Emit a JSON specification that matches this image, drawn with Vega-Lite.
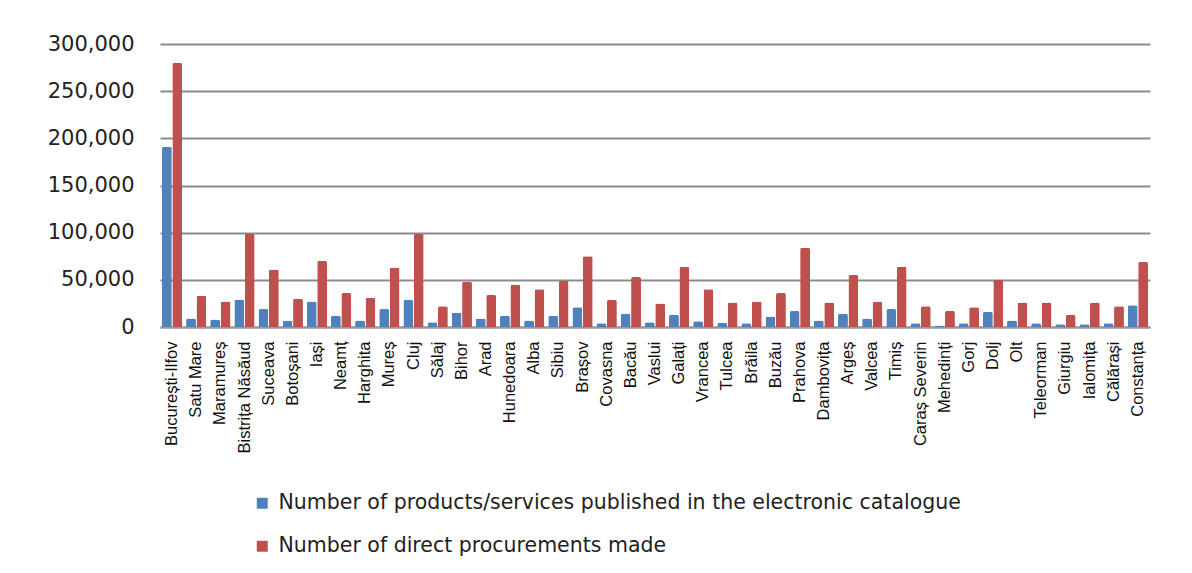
{
  "$schema": "https://vega.github.io/schema/vega-lite/v6.json",
  "autosize": {"type": "none"},
  "width": 990,
  "height": 283,
  "padding": {"left": 160, "top": 44, "right": 42, "bottom": 246},
  "background": "white",
  "config": {
    "view": {"stroke": null},
    "font": "DejaVu Sans"
  },
  "datasets": {
    "counties": [
      {"county": "București-Ilfov", "products": 191000, "procurements": 280000},
      {"county": "Satu Mare", "products": 9000, "procurements": 33000},
      {"county": "Maramureș", "products": 8000, "procurements": 27000},
      {"county": "Bistrița Năsăud", "products": 29000, "procurements": 99000},
      {"county": "Suceava", "products": 19000, "procurements": 61000},
      {"county": "Botoșani", "products": 7000, "procurements": 30000},
      {"county": "Iași", "products": 27000, "procurements": 70000},
      {"county": "Neamț", "products": 12000, "procurements": 36000},
      {"county": "Harghita", "products": 7000, "procurements": 31000},
      {"county": "Mureș", "products": 19000, "procurements": 63000},
      {"county": "Cluj", "products": 29000, "procurements": 99000},
      {"county": "Sălaj", "products": 5000, "procurements": 22000},
      {"county": "Bihor", "products": 15000, "procurements": 48000},
      {"county": "Arad", "products": 9000, "procurements": 34000},
      {"county": "Hunedoara", "products": 12000, "procurements": 45000},
      {"county": "Alba", "products": 7000, "procurements": 40000},
      {"county": "Sibiu", "products": 12000, "procurements": 49000},
      {"county": "Brașov", "products": 21000, "procurements": 75000},
      {"county": "Covasna", "products": 4000, "procurements": 29000},
      {"county": "Bacău", "products": 14000, "procurements": 53000},
      {"county": "Vaslui", "products": 5000, "procurements": 25000},
      {"county": "Galați", "products": 13000, "procurements": 64000},
      {"county": "Vrancea", "products": 6000, "procurements": 40000},
      {"county": "Tulcea", "products": 4500, "procurements": 26000},
      {"county": "Brăila", "products": 4000, "procurements": 27000},
      {"county": "Buzău", "products": 11000, "procurements": 36000},
      {"county": "Prahova", "products": 17000, "procurements": 84000},
      {"county": "Dambovița", "products": 7000, "procurements": 26000},
      {"county": "Argeș", "products": 14000, "procurements": 55000},
      {"county": "Valcea", "products": 9000, "procurements": 27000},
      {"county": "Timiș", "products": 19000, "procurements": 64000},
      {"county": "Caraș Severin", "products": 4000, "procurements": 22000},
      {"county": "Mehedinți", "products": 1500, "procurements": 17000},
      {"county": "Gorj", "products": 4000, "procurements": 21000},
      {"county": "Dolj", "products": 16000, "procurements": 50000},
      {"county": "Olt", "products": 7000, "procurements": 26000},
      {"county": "Teleorman", "products": 4000, "procurements": 26000},
      {"county": "Giurgiu", "products": 3000, "procurements": 13000},
      {"county": "Ialomița", "products": 3000, "procurements": 26000},
      {"county": "Călărași", "products": 4000, "procurements": 22000},
      {"county": "Constanța", "products": 23000, "procurements": 69000}
    ]
  },
  "data": {"name": "counties"},
  "transform": [
    {"fold": ["products", "procurements"], "as": ["key", "value"]},
    {"lookup": "key", "from": {"data": {"values": [
      {"key": "products", "series": "Number of products/services published in the electronic catalogue", "order": 0},
      {"key": "procurements", "series": "Number of direct procurements made", "order": 1}
    ]}, "key": "key", "fields": ["series", "order"]}}
  ],
  "mark": {"type": "bar", "cornerRadiusTopLeft": 2, "cornerRadiusTopRight": 2},
  "encoding": {
    "x": {
      "field": "county", "type": "nominal", "sort": null,
      "scale": {"paddingInner": 0.16, "paddingOuter": 0.08},
      "axis": {
        "title": null, "labelAngle": -90, "labelAlign": "right", "labelBaseline": "middle",
        "labelFont": "Liberation Sans", "labelFontSize": 16.5, "labelColor": "#111",
        "labelPadding": 14, "ticks": false, "domain": true, "domainColor": "#999", "domainWidth": 2,
        "labelOverlap": false
      }
    },
    "xOffset": {"field": "order", "type": "nominal", "scale": {"paddingInner": 0.05}},
    "y": {
      "field": "value", "type": "quantitative",
      "scale": {"domain": [0, 300000], "nice": false},
      "axis": {
        "title": null, "values": [0, 50000, 100000, 150000, 200000, 250000, 300000],
        "format": ",d", "labelFontSize": 21, "labelColor": "#222", "labelPadding": 26,
        "ticks": false, "domain": false, "gridColor": "#8c8c8c", "gridWidth": 2
      }
    },
    "color": {
      "field": "series", "type": "nominal",
      "sort": ["Number of products/services published in the electronic catalogue", "Number of direct procurements made"],
      "scale": {"range": ["#4F81BD", "#C0504D"]},
      "legend": {
        "title": null, "orient": "none", "legendX": 92, "legendY": 449,
        "direction": "vertical", "symbolType": "square", "symbolSize": 120,
        "symbolStrokeWidth": 0, "labelFont": "DejaVu Sans", "labelFontSize": 20.5, "labelColor": "#222", "rowPadding": 22,
        "labelLimit": 900, "labelOffset": 6
      }
    }
  }
}
